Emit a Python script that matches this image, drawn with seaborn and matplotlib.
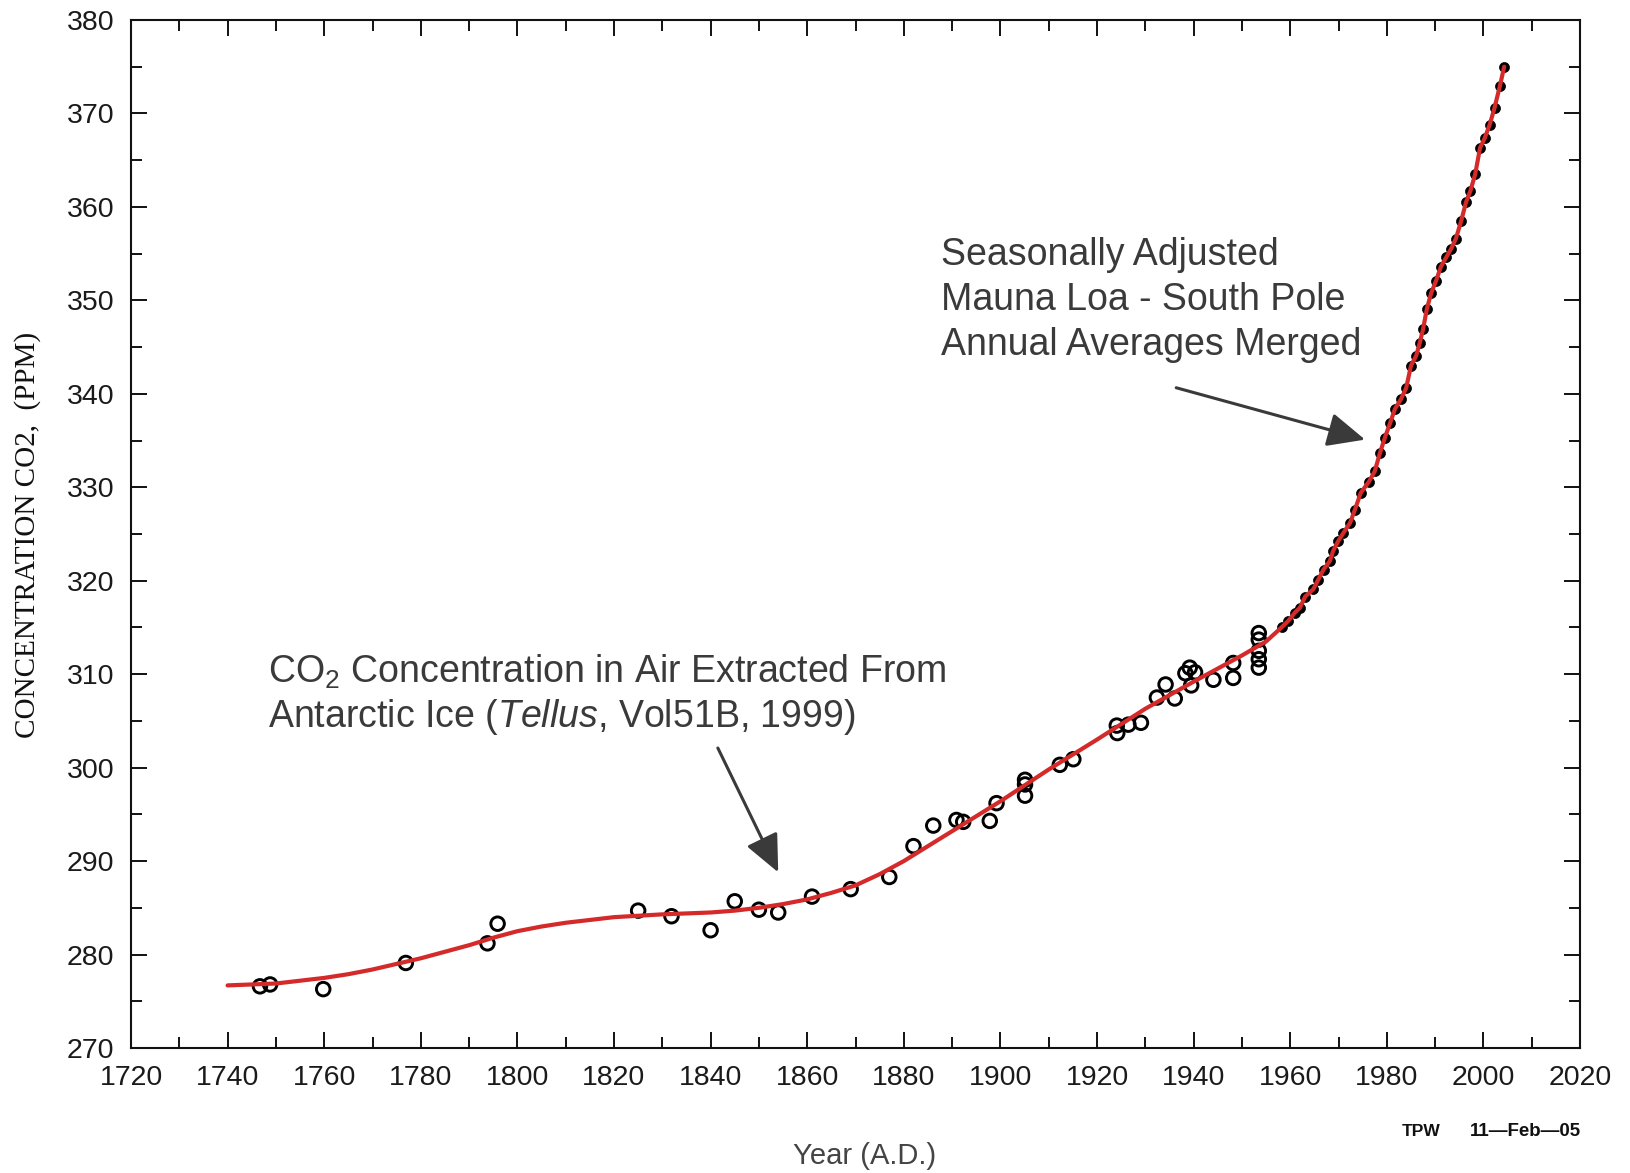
import matplotlib
matplotlib.use("Agg")
import matplotlib.pyplot as plt
import seaborn as sns
import pandas as pd
from matplotlib.ticker import MultipleLocator

# ---- data ----
ice_years = [1746.7, 1748.8, 1759.8, 1776.9, 1793.8, 1795.9, 1825.0, 1831.9, 1840.0,
             1845.0, 1850.0, 1854.0, 1861.0, 1869.0, 1877.0, 1882.0, 1886.1, 1890.9,
             1892.3, 1897.8, 1899.2, 1905.1, 1905.1, 1905.1, 1912.3, 1915.1, 1924.1,
             1924.2, 1926.5, 1929.1, 1932.4, 1934.2, 1936.1, 1938.3, 1939.2, 1939.5,
             1940.3, 1944.1, 1948.2, 1948.2, 1953.5, 1953.5, 1953.5, 1953.5, 1953.5]
ice_ppm = [276.6, 276.8, 276.3, 279.1, 281.2, 283.3, 284.7, 284.1, 282.6,
           285.7, 284.8, 284.5, 286.2, 287.0, 288.3, 291.6, 293.8, 294.4,
           294.2, 294.3, 296.2, 298.7, 298.2, 297.0, 300.3, 300.9, 304.5,
           303.7, 304.6, 304.8, 307.5, 308.9, 307.4, 310.1, 310.7, 308.8,
           310.2, 309.4, 311.2, 309.6, 314.4, 313.7, 312.5, 311.6, 310.7]

ml_years = [1958.2, 1959.6, 1961.0, 1962.0, 1963.1, 1964.8, 1965.8, 1966.9, 1968.2,
            1968.9, 1969.9, 1971.0, 1972.4, 1973.4, 1974.6, 1976.3, 1977.5, 1978.6,
            1979.6, 1980.7, 1981.7, 1982.9, 1984.0, 1985.0, 1986.1, 1986.8, 1987.5,
            1988.3, 1989.2, 1990.2, 1991.2, 1992.3, 1993.3, 1994.3, 1995.4, 1996.4,
            1997.3, 1998.3, 1999.3, 2000.3, 2001.3, 2002.3, 2003.4, 2004.3]
ml_ppm = [315.0, 315.7, 316.6, 317.1, 318.3, 319.1, 320.1, 321.2, 322.1,
          323.2, 324.2, 325.1, 326.2, 327.6, 329.4, 330.6, 331.7, 333.7,
          335.3, 336.9, 338.4, 339.4, 340.6, 343.0, 344.1, 345.4, 346.9,
          349.1, 350.8, 352.1, 353.6, 354.6, 355.5, 356.6, 358.5, 360.5,
          361.7, 363.5, 366.3, 367.4, 368.8, 370.6, 372.9, 375.0]

fit_years = [1740, 1745, 1750, 1755, 1760, 1765, 1770, 1775, 1780, 1785, 1790, 1795,
             1800, 1805, 1810, 1815, 1820, 1825, 1830, 1835, 1840, 1845, 1850, 1855,
             1860, 1865, 1870, 1875, 1880, 1885, 1890, 1895, 1900, 1910, 1920, 1930,
             1940, 1950, 1955]
fit_ppm = [276.7, 276.8, 276.9, 277.2, 277.5, 277.9, 278.4, 279.0, 279.6, 280.3, 281.0, 281.8,
           282.5, 283.0, 283.4, 283.7, 284.0, 284.15, 284.3, 284.4, 284.5, 284.7, 285.0, 285.4,
           285.9, 286.6, 287.4, 288.6, 290.0, 291.6, 293.2, 294.8, 296.4, 299.8, 303.0, 306.3,
           309.2, 312.0, 313.5]

x_ticks = [1720, 1740, 1760, 1780, 1800, 1820, 1840, 1860, 1880, 1900, 1920,
           1940, 1960, 1980, 2000, 2020]
y_ticks = [270, 280, 290, 300, 310, 320, 330, 340, 350, 360, 370, 380]

ice_df = pd.DataFrame({"year": ice_years, "ppm": ice_ppm})
ml_df = pd.DataFrame({"year": ml_years, "ppm": ml_ppm})
curve_df = pd.DataFrame({"year": fit_years + ml_years, "ppm": fit_ppm + ml_ppm})

# ---- style ----
sns.set_theme(style="ticks")
plt.rcParams["font.family"] = ["Liberation Sans", "DejaVu Sans"]
plt.rcParams["mathtext.fontset"] = "custom"
plt.rcParams["mathtext.rm"] = "Liberation Sans"
plt.rcParams["mathtext.it"] = "Liberation Sans:italic"

fig = plt.figure(figsize=(16.30, 11.73), dpi=100)
ax = fig.add_axes([131 / 1630, 1 - 1048 / 1173, 1449 / 1630, 1028 / 1173])

RED = "#d42a2a"
INK = "#3a3a3a"

sns.scatterplot(data=ml_df, x="year", y="ppm", ax=ax, color="black", s=52,
                edgecolor="black", linewidth=0.5, zorder=2)
sns.scatterplot(data=ice_df, x="year", y="ppm", ax=ax, marker="o",
                facecolor="none", edgecolor="black", linewidth=2.1, s=95, zorder=3)
sns.lineplot(data=curve_df, x="year", y="ppm", ax=ax, color=RED, lw=3.0,
             estimator=None, sort=True, zorder=4)

ax.set_xlim(1720, 2020)
ax.set_ylim(270, 380)
ax.set_xticks(x_ticks)
ax.set_yticks(y_ticks)
ax.xaxis.set_minor_locator(MultipleLocator(10))
ax.yaxis.set_minor_locator(MultipleLocator(5))
ax.tick_params(which="both", direction="in", top=True, right=True,
               width=1.4, color="#111111")
ax.tick_params(which="major", length=11.5, labelsize=20.5, labelcolor="#1a1a1a")
ax.tick_params(which="minor", length=8)
ax.tick_params(axis="x", pad=12)
ax.tick_params(axis="y", pad=12)
for sp in ax.spines.values():
    sp.set_visible(True)
    sp.set_linewidth(1.5)
    sp.set_color("#111111")
ax.set_xlabel("")
ax.set_ylabel("")

# ---- annotations ----
ax.annotate("", xy=(1975.5, 335.1), xytext=(1936.4, 340.65),
            arrowprops=dict(arrowstyle="-|>,head_length=1.1,head_width=0.5",
                            color=INK, lw=2.2, shrinkA=0, shrinkB=0,
                            mutation_scale=21))
ax.annotate("", xy=(1854.0, 288.8), xytext=(1841.5, 302.1),
            arrowprops=dict(arrowstyle="-|>,head_length=1.1,head_width=0.5",
                            color=INK, lw=2.2, shrinkA=0, shrinkB=0,
                            mutation_scale=21))

ax.text(1887.7, 350.0, "Seasonally Adjusted\nMauna Loa - South Pole\nAnnual Averages Merged",
        fontsize=27, color=INK, ha="left", va="center", linespacing=1.32)
ax.text(1748.4, 307.75,
        "CO$_2$ Concentration in Air Extracted From\nAntarctic Ice ($\\mathit{Tellus}$, Vol51B, 1999)",
        fontsize=27, color=INK, ha="left", va="center", linespacing=1.2)

fig.text(865 / 1630, 1 - 1156 / 1173, "Year (A.D.)", ha="center", va="center",
         fontsize=21, color="#444444")
fig.text(28 / 1630, 1 - 535 / 1173, "CONCENTRATION CO2,  (PPM)", rotation=90,
         ha="center", va="center", fontsize=21,
         family=["Liberation Serif", "DejaVu Serif"], color="#111111")
fig.text(1402 / 1630, 1 - 1131 / 1173, "TPW", ha="left", va="center",
         fontsize=12.5, weight="bold", color="#111111")
fig.text(1581 / 1630, 1 - 1131 / 1173, "11\u2014Feb\u201405", ha="right", va="center",
         fontsize=13.5, weight="bold", color="#111111")

fig.savefig("out.png", dpi=100, facecolor="white")
